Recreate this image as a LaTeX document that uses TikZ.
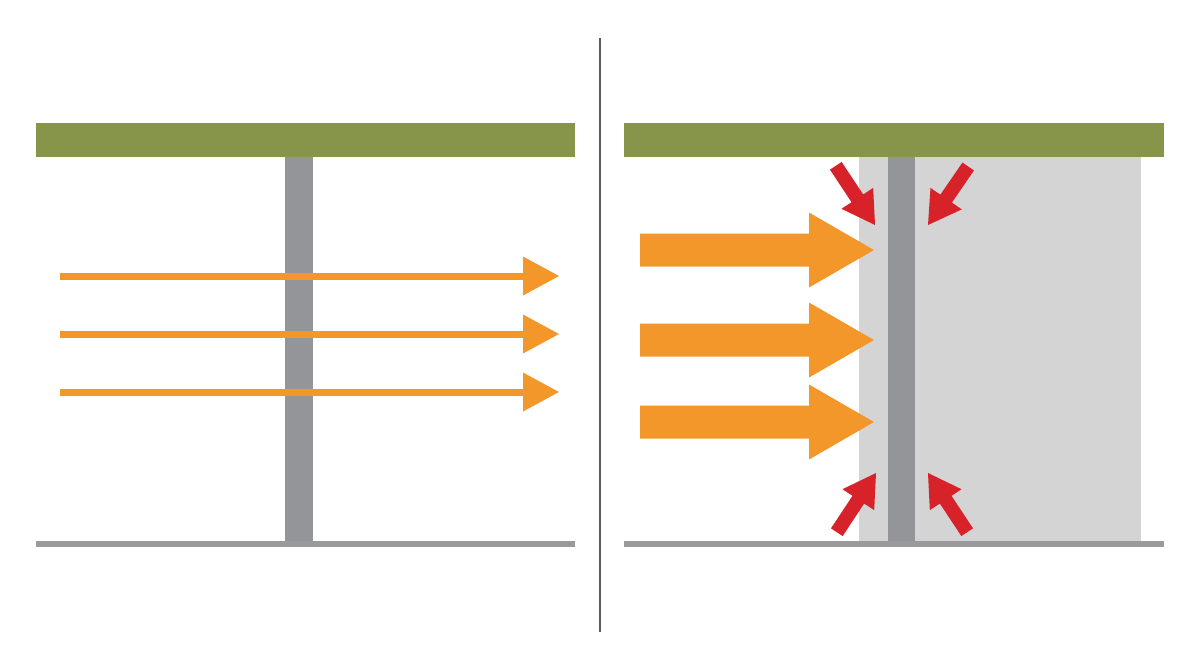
\documentclass[tikz,border=0pt]{standalone}
\usepackage{tikz}
\definecolor{beam}{HTML}{86954A}
\definecolor{post}{HTML}{939598}
\definecolor{zone}{HTML}{D4D4D4}
\definecolor{floorc}{HTML}{9A9A9C}
\definecolor{divc}{HTML}{5A5A5A}
\definecolor{orng}{HTML}{F3972A}
\definecolor{redc}{HTML}{D8222A}
\tikzset{
  beamfill/.style={fill=beam},
  postfill/.style={fill=post},
  floorfill/.style={fill=floorc},
  zonefill/.style={fill=zone},
  thinflow/.style={draw=orng,line width=7pt},
  headfill/.style={fill=orng},
  redfill/.style={fill=redc},
}
\newcommand{\redarrow}[3]{%
  \begin{scope}[shift={(#1,#2)},rotate=#3]
    \fill[redfill] (-71,-7) -- (-32,-7) -- (-32,-19) -- (0,0) -- (-32,19) -- (-32,7) -- (-71,7) -- cycle;
  \end{scope}}
\begin{document}
\begin{tikzpicture}[x=1pt,y=-1pt]
\useasboundingbox (0,0) rectangle (1200,670);
\fill[white] (0,0) rectangle (1200,670);
% divider
\draw[divc,line width=2pt] (600,38) -- (600,632);
% ---------- left panel ----------
\fill[beamfill] (36,123) rectangle (575,157);
\fill[postfill] (285,157) rectangle (313,546);
\fill[floorfill] (36,541) rectangle (575,547);
\foreach \yy in {276,334,392}{
  \draw[thinflow] (60,\yy) -- (526,\yy);
  \fill[headfill] (523,\yy-19.5) -- (559,\yy) -- (523,\yy+19.5) -- cycle;
}
% ---------- right panel ----------
\fill[beamfill] (624,123) rectangle (1164,157);
\fill[zonefill] (859,157) rectangle (1141,542);
\fill[postfill] (888,157) rectangle (915,546);
\fill[floorfill] (624,541) rectangle (1164,547);
\foreach \yy in {250,340,422}{
  \fill[headfill] (640,\yy-16.5) -- (809,\yy-16.5) -- (809,\yy-37.5) -- (874,\yy)
     -- (809,\yy+37.5) -- (809,\yy+16.5) -- (640,\yy+16.5) -- cycle;
}
\redarrow{875}{225}{-56.5}
\redarrow{928}{225}{-124.5}
\redarrow{876}{473}{56.5}
\redarrow{928}{473}{123.5}
\end{tikzpicture}
\end{document}
